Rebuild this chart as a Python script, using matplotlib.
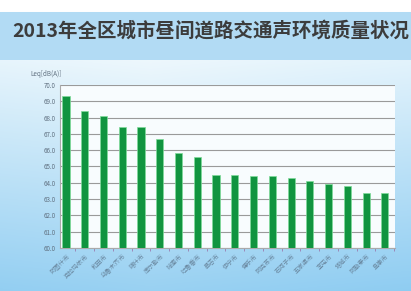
import numpy as np
import matplotlib
matplotlib.use("Agg")
from matplotlib import pyplot as plt

plt.rcParams['font.family'] = ['Noto Sans CJK SC', 'DejaVu Sans']

title = "2013年全区城市昼间道路交通声环境质量状况"
unit = "Leq[dB(A)]"
cities = ["阿图什市", "克拉玛依市", "和田市", "乌鲁木齐市", "喀什市", "库尔勒市",
          "哈密市", "吐鲁番市", "昌吉市", "伊宁市", "博乐市", "阿克苏市",
          "石河子市", "五家渠市", "奎屯市", "塔城市", "阿勒泰市", "阜康市"]
values = [69.3, 68.4, 68.1, 67.4, 67.4, 66.7, 65.8, 65.6, 64.5,
          64.5, 64.4, 64.4, 64.3, 64.1, 63.9, 63.8, 63.4, 63.4]
y_ticks = [60, 61, 62, 63, 64, 65, 66, 67, 68, 69, 70]

fig = plt.figure(figsize=(4.11, 2.91), dpi=100)

# background gradient
bg = fig.add_axes([0, 0, 1, 1], zorder=0)
bg.set_axis_off()
h, w = 291, 411
yy, xx = np.mgrid[0:h, 0:w]
t = np.clip((yy - 60) / (h - 60), 0, 1)
top_c = np.array([0.93, 0.97, 0.99])
bot_c = np.array([0.60, 0.82, 0.95])
img = top_c[None, None, :] * (1 - t[..., None]) + bot_c[None, None, :] * t[..., None]
side = np.clip(np.abs(xx - 150) / 260, 0, 1)[..., None] * 0.12
img = img - side * np.array([0.35, 0.15, 0.02])
img[yy < 12] = [1, 1, 1]
band = (yy >= 12) & (yy < 60)
img[band] = [0.70, 0.86, 0.96]
bg.imshow(np.clip(img, 0, 1), extent=[0, 1, 0, 1], aspect='auto')
bg.set_xlim(0, 1)
bg.set_ylim(0, 1)

fig.text(0.513, 0.895, title, ha='center', va='center', fontsize=14,
         fontweight='bold', color='#3c3c3c')
fig.text(0.075, 0.745, unit, ha='left', va='center', fontsize=4.5, color='#607080')

ax = fig.add_axes([0.146, 0.148, 0.815, 0.560], zorder=1)
ax.set_facecolor('#f8fcfe')
x = np.arange(len(cities))
ax.bar(x, values, width=0.38, color='#119440', edgecolor='#7fdc9a', linewidth=0.5,
       zorder=3)
ax.set_xlim(-0.32, 17.54)
ax.set_ylim(60, 70)
ax.set_yticks(y_ticks)
ax.set_yticklabels([f"{v:.1f}" for v in y_ticks], fontsize=4.5, color='#607080')
ax.yaxis.grid(True, color='#9a9a9a', linewidth=0.8, zorder=0)
ax.set_xticks(x)
ax.set_xticklabels(cities, rotation=45, ha='right', rotation_mode='anchor',
                   fontsize=4.5, color='#6a88a0')
ax.tick_params(axis='both', length=0, pad=3)
ax.set_xticks(x + 0.5, minor=True)
ax.tick_params(axis='x', which='minor', length=2, color='#9a7ab0')
for s in ['top', 'right']:
    ax.spines[s].set_visible(False)
ax.spines['left'].set_color('#aaaaaa')
ax.spines['bottom'].set_color('#aaaaaa')

fig.savefig('out.png', dpi=100)
